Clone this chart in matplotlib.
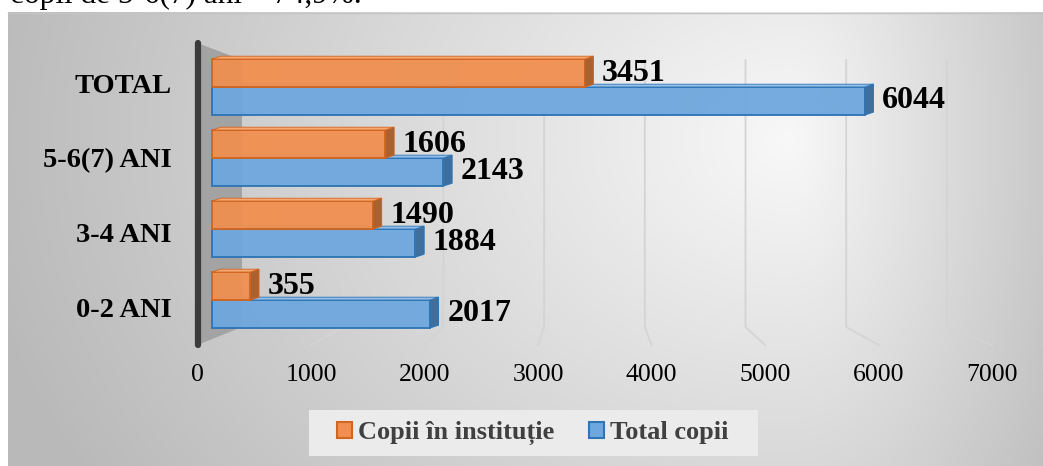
import numpy as np
import matplotlib.pyplot as plt
from matplotlib.patches import Patch, Polygon, Rectangle

plt.rcParams['font.family'] = ['Liberation Serif', 'DejaVu Serif']

# data
categories = ['0-2 ANI', '3-4 ANI', '5-6(7) ANI', 'TOTAL']
copii_institutie = [355, 1490, 1606, 3451]
total_copii = [2017, 1884, 2143, 6044]
xtick_vals = [0, 1000, 2000, 3000, 4000, 5000, 6000, 7000]

W, H = 1043, 466
fig = plt.figure(figsize=(W / 100, H / 100), dpi=100)

# background panel with a soft gradient
bg = fig.add_axes([0, 0, 1, 1], zorder=0)
yy, xx = np.mgrid[0:H, 0:W].astype(float)
cx, cy = 790.0, 140.0
rx = np.where(xx < cx, 790.0, 330.0)
r = np.sqrt(((xx - cx) / rx) ** 2 + ((yy - cy) / 620.0) ** 2)
val = np.clip(248 - 60 * r, 185, 250) / 255.0
val[(xx < 8) | (yy < 12)] = 1.0
img = np.dstack([val, val, val])
bg.imshow(img, extent=(0, W, H, 0), aspect='auto', interpolation='bilinear')
bg.plot([8, W], [12.5, 12.5], color='#c4c4c4', lw=1)
bg.add_patch(Rectangle((309, 410), 449, 46, facecolor='#ebebeb', edgecolor='none'))
bg.set_xlim(0, W)
bg.set_ylim(H, 0)
bg.axis('off')

# main axes, mapped so that bar values line up with the picture
S = 0.108  # pixels per unit on the bar plane
ax_l, ax_r, ax_t, ax_b = 180, 1030, 30, 350
ax = fig.add_axes([ax_l / W, 1 - ax_b / H, (ax_r - ax_l) / W, (ax_b - ax_t) / H], zorder=1)
ax.patch.set_alpha(0)


def px2x(px):
    return (px - 212) / S


def py2y(py):
    return (300 - py) / 71.0


ax.set_xlim(px2x(ax_l), px2x(ax_r))
ax.set_ylim(py2y(ax_b), py2y(ax_t))


def front_x(v):
    return px2x(197.5 + 0.1135 * v)


def back_x(v):
    return px2x(242 + 0.1007 * v)


y_back_top = py2y(60)
y_back_floor = py2y(327)
y_front_floor = py2y(345)
y_wall_top = py2y(43)

# side wall
ax.add_patch(Polygon([(front_x(0), y_wall_top), (back_x(0), y_back_top),
                      (back_x(0), y_back_floor), (front_x(0), y_front_floor)],
                     closed=True, facecolor='#a3a3a3', edgecolor='none', zorder=1))
ax.plot([front_x(0), front_x(0)], [y_wall_top, y_front_floor], color='#3c3c3c',
        lw=4.5, solid_capstyle='round', zorder=2)

# gridlines (back wall + floor)
for v in xtick_vals[1:]:
    ax.plot([back_x(v), back_x(v), front_x(v)], [y_back_top, y_back_floor, y_front_floor],
            color='#d4d4d4', lw=1.3, zorder=1)

# bars
idx = np.arange(len(categories))
h = 0.394
dx, dy = 80, 0.04
or_face, or_edge, or_side, or_top = '#F08F50', '#D2651F', '#A8612F', '#F4A874'
bl_face, bl_edge, bl_side, bl_top = '#6EA7DD', '#2E75B6', '#3F6F9E', '#94BEE8'


def draw_bars(vals, centers, face, edge, side, top, z):
    ax.barh(centers, vals, height=h, color=face, edgecolor=edge, lw=1.4, alpha=0.95, zorder=z)
    for v, c in zip(vals, centers):
        y0, y1 = c - h / 2, c + h / 2
        ax.add_patch(Polygon([(v, y0), (v + dx, y0 + dy), (v + dx, y1 + dy), (v, y1)],
                             closed=True, facecolor=side, edgecolor=edge, lw=0.8, zorder=z))
        ax.add_patch(Polygon([(0, y1), (dx, y1 + dy), (v + dx, y1 + dy), (v, y1)],
                             closed=True, facecolor=top, edgecolor=edge, lw=0.6, zorder=z))


blue_c = idx - h / 2
orange_c = idx + h / 2
draw_bars(total_copii, blue_c, bl_face, bl_edge, bl_side, bl_top, 3)
draw_bars(copii_institutie, orange_c, or_face, or_edge, or_side, or_top, 4)

for vals, centers in [(copii_institutie, orange_c), (total_copii, blue_c)]:
    for v, c in zip(vals, centers):
        ax.annotate(str(v), xy=(v, c), xytext=(12.5, 0), textcoords='offset points',
                    ha='left', va='center', fontsize=23, fontweight='bold', color='black', zorder=6)

# axis labels
ax.set_yticks(-0.1 + 1.052 * idx)
ax.set_yticklabels(categories, fontsize=20.5, fontweight='bold')
ax.set_xticks([front_x(v) for v in xtick_vals])
ax.set_xticklabels([str(v) for v in xtick_vals], fontsize=18.5)
ax.tick_params(axis='y', length=0, pad=6)
ax.tick_params(axis='x', length=0, pad=10)
for s in ax.spines.values():
    s.set_visible(False)

# legend
handles = [Patch(facecolor=or_face, edgecolor=or_edge, lw=1.5, label='Copii în instituție'),
           Patch(facecolor=bl_face, edgecolor=bl_edge, lw=1.5, label='Total copii')]
fig.legend(handles=handles, loc='center', bbox_to_anchor=(533 / W, 1 - 433 / H), ncol=2,
           frameon=False, prop=dict(size=19, weight='bold'), labelcolor='#404040',
           handlelength=0.55, handleheight=0.55, handletextpad=0.25, columnspacing=1.3)

# cut-off line of document text above the chart
fig.text(10 / W, 1 - 3 / H, 'copii de 5-6(7) ani – 74,9%.', fontsize=22.5, ha='left', va='baseline')

fig.savefig('out.png', dpi=100)
